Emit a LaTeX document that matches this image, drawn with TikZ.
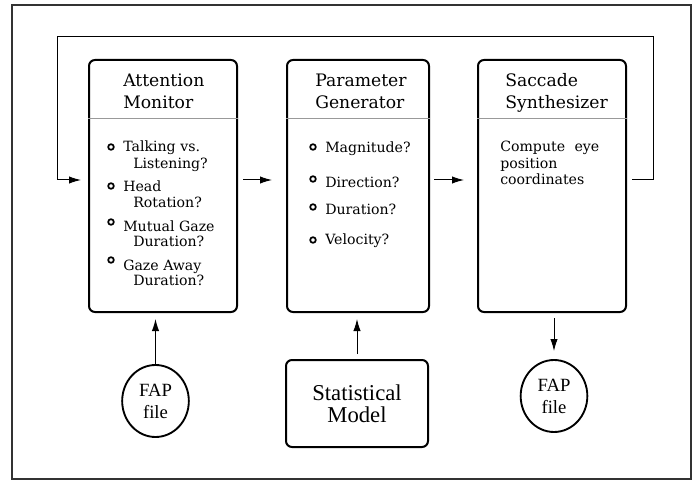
\documentclass[tikz,border=0pt]{standalone}
\usepackage{fontspec}
\setmainfont{DejaVu Serif}
\newfontfamily\tms{Liberation Serif}
\usetikzlibrary{arrows.meta,shapes.geometric}
\begin{document}
\begin{tikzpicture}[x=0.75pt,y=-0.75pt,
  box/.style={draw=black,line width=1.5pt,rounded corners=4.5pt,inner sep=0pt},
  ttl/.style={anchor=base west,inner sep=0pt,font=\fontsize{12.9}{15}\selectfont},
  itm/.style={anchor=base west,inner sep=0pt,font=\fontsize{10.6}{12}\selectfont},
  dot/.style={circle,draw=black,line width=1.3pt,minimum size=4.2pt,inner sep=0pt},
  arr/.style={draw=black,line width=0.75pt,-{Latex[length=9pt,width=5.5pt]}},
  fap/.style={ellipse,draw=black,line width=1.4pt,minimum width=50pt,minimum height=54pt,inner sep=0pt,align=center,font=\tms\fontsize{14}{16.5}\selectfont},
  div/.style={draw=black!40,line width=0.75pt}]
\useasboundingbox (0,0) rectangle (700,481);
\fill[white] (0,0) rectangle (700,481);
\draw[draw=black!80,line width=1.5pt] (12,5) rectangle (691,479);
% main boxes
\node[box,minimum width=111pt,minimum height=189pt] (am) at (163,186) {};
\node[box,minimum width=106.5pt,minimum height=189pt] (pg) at (358,186) {};
\node[box,minimum width=111pt,minimum height=189pt] (ss) at (552,186) {};
\coordinate (dv) at (0,119);
\draw[div] (am.west |- dv) -- (am.east |- dv);
\draw[div] (pg.west |- dv) -- (pg.east |- dv);
\draw[div] (ss.west |- dv) -- (ss.east |- dv);
% titles
\node[ttl] (amt1) at (123,87) {Attention};
\node[ttl] (amt2) at (123,109) {Monitor};
\node[ttl] (pgt1) at (315,87) {Parameter};
\node[ttl] (pgt2) at (315,109) {Generator};
\node[ttl] (sst1) at (505,87) {Saccade};
\node[ttl] (sst2) at (505,109) {Synthesizer};
% attention monitor items
\node[dot] (b1) at (111,147) {};
\node[itm] (i1a) at (123,151.5) {Talking vs.};
\node[itm] (i1b) at (133,169) {Listening?};
\node[dot] (b2) at (111,186) {};
\node[itm] (i2a) at (123,192) {Head};
\node[itm] (i2b) at (133,208) {Rotation?};
\node[dot] (b3) at (111,222) {};
\node[itm] (i3a) at (123,232) {Mutual Gaze};
\node[itm] (i3b) at (133,247) {Duration?};
\node[dot] (b4) at (111,260) {};
\node[itm] (i4a) at (123,270) {Gaze Away};
\node[itm] (i4b) at (133,286) {Duration?};
% parameter generator items
\node[dot] (c1) at (313,147) {};
\node[itm] (j1) at (325,153) {Magnitude?};
\node[dot] (c2) at (313,179) {};
\node[itm] (j2) at (325,188) {Direction?};
\node[dot] (c3) at (313,207) {};
\node[itm] (j3) at (325,215) {Duration?};
\node[dot] (c4) at (313,240) {};
\node[itm] (j4) at (325,244) {Velocity?};
% saccade synthesizer text
\node[itm] (k1) at (500,152) {Compute\hspace{7pt}eye};
\node[itm] (k2) at (500,169) {position};
\node[itm] (k3) at (500,185) {coordinates};
% bottom nodes
\node[fap] (fap1) at (155.5,401) {FAP\\file};
\node[box,minimum width=106.5pt,minimum height=65.25pt,align=center,font=\tms\fontsize{17}{16.5}\selectfont] (sm) at (357,403.5) {Statistical\\Model};
\node[fap] (fap2) at (554,396) {FAP\\file};
% connectors
\coordinate (ya) at (0,180);
\coordinate (fbR) at (653,37);
\coordinate (fbL) at (57,37);
\draw[arr,shorten <=3.75pt,shorten >=10.5pt] (am.east |- ya) -- (pg.west |- ya);
\draw[arr,shorten <=3pt,shorten >=9.75pt] (pg.east |- ya) -- (ss.west |- ya);
\draw[arr,shorten <=3.75pt,shorten >=5.25pt] (ss.east |- ya) -| (fbR) -- (fbL) |- (am.west |- ya);
\draw[arr,shorten >=4.5pt] (fap1.north) -- (fap1.north |- am.south);
\draw[arr,shorten <=3.75pt,shorten >=4.5pt] (sm.north) -- (sm.north |- pg.south);
\draw[arr,shorten <=3.75pt,shorten >=6pt] (ss.south -| fap2.north) -- (fap2.north);
\end{tikzpicture}
\end{document}
